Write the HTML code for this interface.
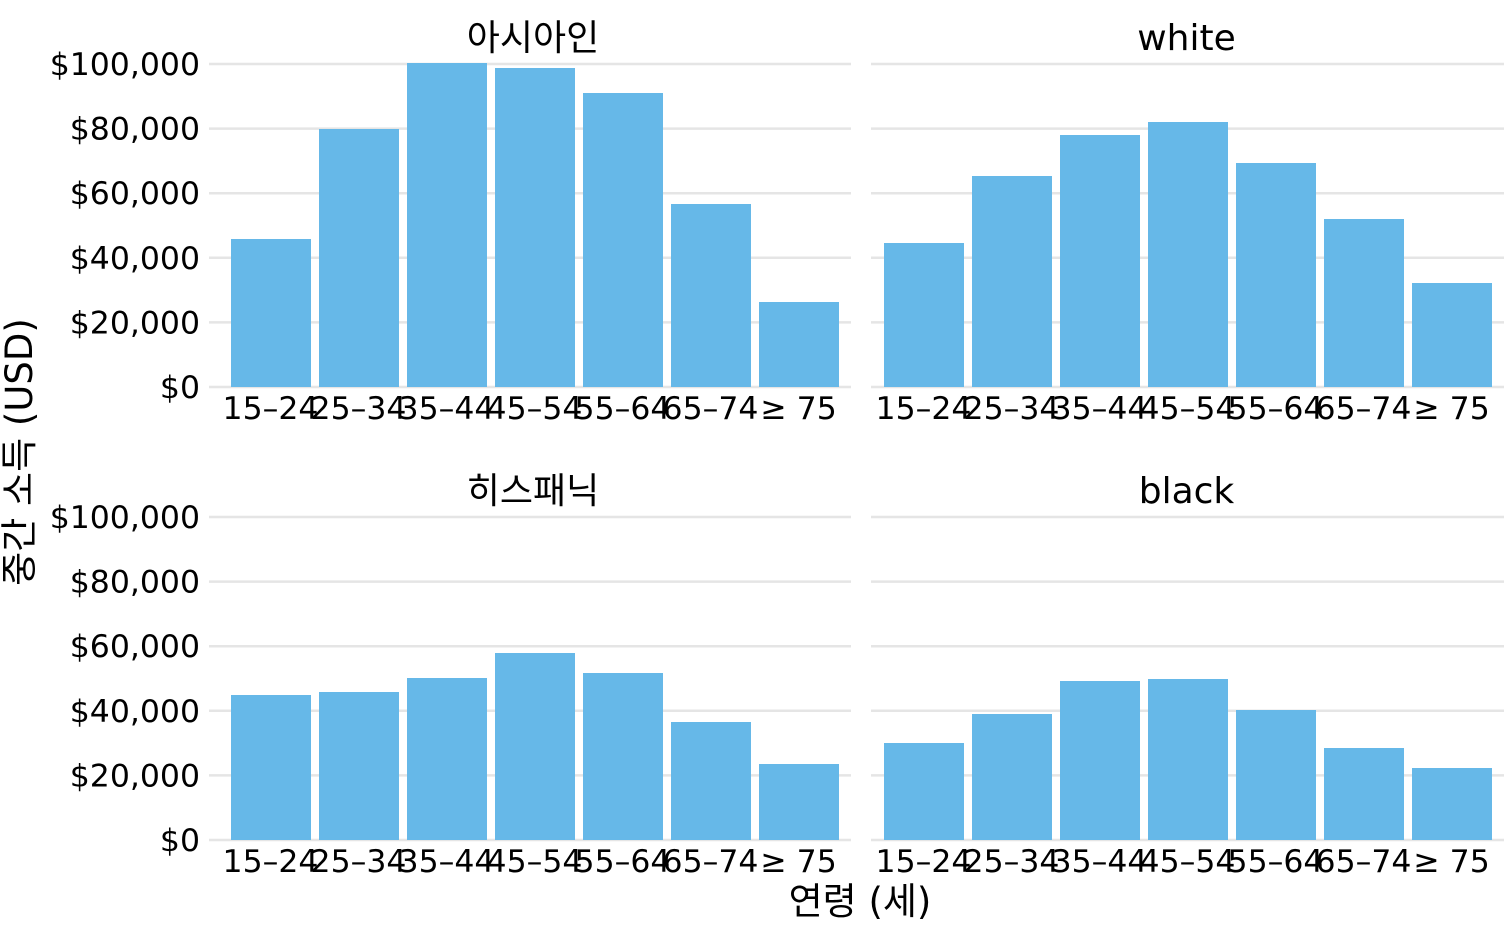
<!DOCTYPE html>
<html><head><meta charset="utf-8"><style>
html,body{margin:0;padding:0;background:#fff;}
svg text{font-family:"DejaVu Sans","Noto Sans CJK KR",sans-serif;fill:#000;}
</style></head><body>
<svg width="1508" height="932" xmlns="http://www.w3.org/2000/svg">
<g id="all"></g>
</svg>
<script>
const ns="http://www.w3.org/2000/svg";
const g=document.getElementById("all");
function el(t,a,txt){const e=document.createElementNS(ns,t);for(const k in a)e.setAttribute(k,a[k]);if(txt!==undefined)e.textContent=txt;g.appendChild(e);return e;}
const panels=[
 {x0:209,x1:851,bx:231,y0:387,title:"아시아인",tops:[239,129,63,68,93,204,302]},
 {x0:871,x1:1504,bx:884,y0:387,title:"white",tops:[243,176,135,122,163,219,283]},
 {x0:209,x1:851,bx:231,y0:840,title:"히스패닉",tops:[695,692,678,653,673,722,764]},
 {x0:871,x1:1504,bx:884,y0:840,title:"black",tops:[743,714,681,679,710,748,768]}];
const labs=["$0","$20,000","$40,000","$60,000","$80,000","$100,000"];
const xl=["15–24","25–34","35–44","45–54","55–64","65–74","≥ 75"];
panels.forEach((p,i)=>{
 for(let k=0;k<6;k++){const y=p.y0-k*64.6;
  el("line",{x1:p.x0,x2:p.x1,y1:y,y2:y,stroke:"#e5e5e5","stroke-width":2.5});
  if(i%2==0) el("text",{x:200,y:y+11,"text-anchor":"end","font-size":31.5},labs[k]);}
 p.tops.forEach((t,j)=>{const x=p.bx+j*88;
  el("rect",{x:x,y:t,width:80,height:p.y0-t,fill:"#66b8e8"});
  el("text",{x:x+39.5,y:p.y0+32,"text-anchor":"middle","font-size":31.5},xl[j]);});
 el("text",{x:(p.x0+p.x1)/2+(i%2==0?3:-1),y:p.y0-337,"text-anchor":"middle","font-size":36},p.title);
});
el("text",{x:860,y:914,"text-anchor":"middle","font-size":37},"연령 (세)");
el("text",{x:0,y:0,"text-anchor":"middle","font-size":37,transform:"translate(32,452) rotate(-90)"},"중간 소득 (USD)");
</script>
</body></html>
